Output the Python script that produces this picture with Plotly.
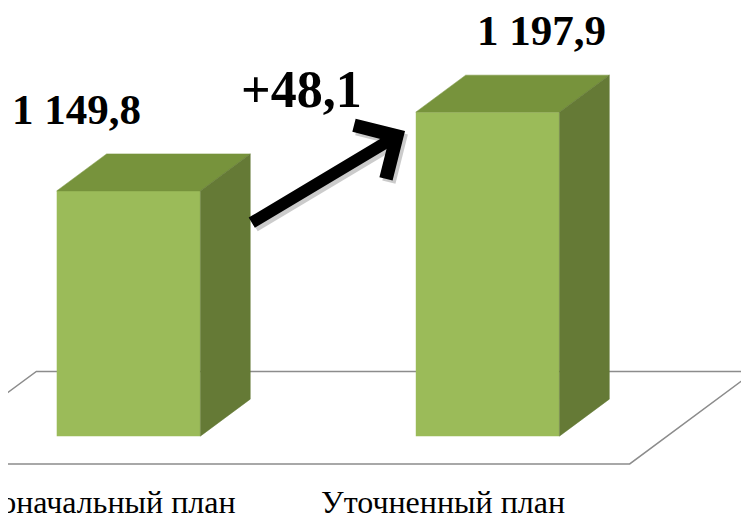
import plotly.graph_objects as go

# data
categories = ["Первоначальный план", "Уточненный план"]
values = [1149.8, 1197.9]
axis_min = 1000

front_color = "#9BBB59"
top_color = "#77933C"
side_color = "#657A36"

half = 0.2            # half bar width (categories)
dx, dy = 0.139, 22.6  # bar depth: x in categories, y in value units
label_dx = [-0.146, 0.149]


def fmt(v, sign=False):
    s = f"{v:+,.1f}" if sign else f"{v:,.1f}"
    return s.replace(",", " ").replace(".", ",")


fig = go.Figure()

# front faces
fig.add_trace(go.Bar(
    x=list(range(len(values))),
    y=[v - axis_min for v in values],
    base=axis_min,
    width=2 * half,
    marker=dict(color=front_color, line_width=0),
    hoverinfo='skip',
))

# top and side faces
for i, v in enumerate(values):
    fig.add_trace(go.Scatter(
        x=[i - half, i + half, i + half + dx, i - half + dx, i - half],
        y=[v, v, v + dy, v + dy, v],
        fill='toself', fillcolor=top_color, mode='lines',
        line=dict(color=top_color, width=0.5), hoverinfo='skip',
    ))
    fig.add_trace(go.Scatter(
        x=[i + half, i + half + dx, i + half + dx, i + half, i + half],
        y=[axis_min, axis_min + dy, v + dy, v, axis_min],
        fill='toself', fillcolor=side_color, mode='lines',
        line=dict(color=side_color, width=0.5), hoverinfo='skip',
    ))

# floor
n = len(values)
fx0, fx1 = -0.5 - 0.75 * dx, n - 0.5 - 0.75 * dx
fy = axis_min - 0.75 * dy
floor_path = (f"M {fx0},{fy} L {fx1},{fy} L {fx1 + 2.5 * dx},{fy + 2.5 * dy} "
              f"L {fx0 + 2.5 * dx},{fy + 2.5 * dy} Z")
fig.add_shape(type='path', path=floor_path, xref='x', yref='y', layer='below',
              fillcolor='white', line=dict(color='#8C8C8C', width=1.5))

# labels
font_name = "Liberation Serif"
for i, (c, v) in enumerate(zip(categories, values)):
    fig.add_annotation(x=i - 0.125, y=axis_min - 40, text=c, showarrow=False,
                       font=dict(family=font_name, size=32, color='black'))
    fig.add_annotation(x=i + label_dx[i], y=v + 50, text=f"<b>{fmt(v)}</b>", showarrow=False,
                       font=dict(family=font_name, size=43, color='black'))

# difference arrow
tail_x, tail_y = half + dx, values[0] - 20
tip_x, tip_y = 1 - half - 0.03, values[1] - 11.6
fig.add_annotation(x=tip_x + 0.008, y=tip_y - 2, ax=tail_x + 0.008, ay=tail_y - 2,
                   xref='x', yref='y', axref='x', ayref='y', text='', showarrow=True,
                   arrowhead=4, arrowsize=1, arrowwidth=12, arrowcolor='rgba(0,0,0,0.2)')
fig.add_annotation(x=tip_x, y=tip_y, ax=tail_x, ay=tail_y,
                   xref='x', yref='y', axref='x', ayref='y', text='', showarrow=True,
                   arrowhead=4, arrowsize=1, arrowwidth=12, arrowcolor='black')
fig.add_annotation(x=0.483, y=(values[0] + values[1]) / 2 + 38,
                   text=f"<b>{fmt(values[1] - values[0], sign=True)}</b>", showarrow=False,
                   font=dict(family=font_name, size=52, color='black'))

# page has an 8px body margin, so the figure is 741x510 and the ranges start 8px in
fig.update_layout(
    width=741, height=510,
    margin=dict(l=0, r=0, t=0, b=0),
    paper_bgcolor='white', plot_bgcolor='white',
    showlegend=False,
    xaxis=dict(range=[-0.3357, 1.728], visible=False, fixedrange=True),
    yaxis=dict(range=[950.0, 1261.5], visible=False, fixedrange=True),
)

fig.write_html("out.html")
